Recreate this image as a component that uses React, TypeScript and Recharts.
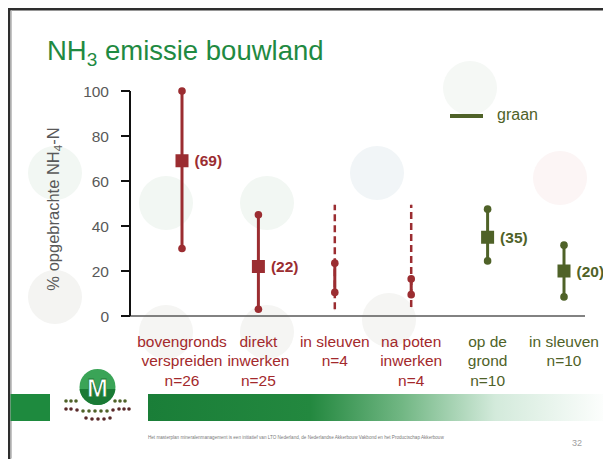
import React from 'react';
import { ComposedChart, Scatter, ErrorBar, XAxis, YAxis } from 'recharts';

// categorieën en meetwaarden (% opgebrachte NH4-N)
const categorieen = ['bovengronds verspreiden', 'direkt inwerken', 'in sleuven (mest)', 'na poten inwerken', 'op de grond', 'in sleuven (graan)'];
const labelRegels = [['bovengronds', 'verspreiden'], ['direkt', 'inwerken'], ['in sleuven'], ['na poten', 'inwerken'], ['op de', 'grond'], ['in sleuven']];
const aantal = [26, 25, 4, 4, 10, 10];
const gewas = ['overig', 'overig', 'overig', 'overig', 'graan', 'graan'];
const minimum = [30, 3, 10.5, 9.5, 24.5, 8.5];
const maximum = [100, 45, 23.5, 16.5, 47.5, 31.5];
const gemiddelde: (number | null)[] = [69, 22, null, null, 35, 20];
const stippelMin: (number | null)[] = [null, null, 3, 4, null, null];
const stippelMax: (number | null)[] = [null, null, 49.5, 49.5, null, null];
const yTicks = [0, 20, 40, 60, 80, 100];

const ROOD = '#9b2d31';
const ROOD_TEKST = '#a3292c';
const GROEN = '#4f6228';
const TITEL_GROEN = '#1f8a42';
const GRIJS = '#595959';
const FONT = '"Liberation Sans", Arial, sans-serif';

const kleurVan = (g: string) => (g === 'graan' ? GROEN : ROOD);

const data = categorieen.map((cat, i) => {
  const graan = gewas[i] === 'graan';
  const midden = (minimum[i] + maximum[i]) / 2;
  const half = (maximum[i] - minimum[i]) / 2;
  const sMin = stippelMin[i];
  const sMax = stippelMax[i];
  return {
    cat,
    gewas: gewas[i],
    laag: minimum[i],
    hoog: maximum[i],
    gem: gemiddelde[i],
    middenRood: graan ? null : midden,
    halfRood: graan ? null : half,
    middenGroen: graan ? midden : null,
    halfGroen: graan ? half : null,
    middenStip: sMin == null || sMax == null ? null : (sMin + sMax) / 2,
    halfStip: sMin == null || sMax == null ? null : (sMax - sMin) / 2,
  };
});

const Leeg = () => <g />;

const Stip = (props: any) => {
  const { cx, cy, payload } = props;
  if (cx == null || cy == null) return <g />;
  return <circle cx={cx} cy={cy} r={3.8} fill={kleurVan(payload.gewas)} />;
};

const Blokje = (props: any) => {
  const { cx, cy, payload } = props;
  if (cx == null || cy == null || payload.gem == null) return <g />;
  const kleur = kleurVan(payload.gewas);
  return (
    <g>
      <rect x={cx - 6.5} y={cy - 6.5} width={13} height={13} fill={kleur} />
      <text x={cx + 12.5} y={cy} dy="0.36em" fill={kleur} fontSize={15.5} fontWeight="bold" fontFamily={FONT}>
        {`(${payload.gem})`}
      </text>
    </g>
  );
};

const XTick = (props: any) => {
  const { x, y, payload } = props;
  const i = payload.index;
  const regels = [...labelRegels[i], `n=${aantal[i]}`];
  const kleur = gewas[i] === 'graan' ? GROEN : ROOD_TEKST;
  return (
    <text x={x} y={y} textAnchor="middle" fill={kleur} fontSize={15.5} fontFamily={FONT}>
      {regels.map((r, k) => (
        <tspan key={k} x={x} dy={k === 0 ? 30.5 : 19.7}>{r}</tspan>
      ))}
    </text>
  );
};

// decoratieve cirkels op de achtergrond van de dia
const cirkels = [
  { x: 47, y: 165, c: '#f2f7f3' },
  { x: 47, y: 289, c: '#f4f4f2' },
  { x: 158, y: 195, c: '#f2f7f3' },
  { x: 259, y: 195, c: '#f2f7f3' },
  { x: 158, y: 324, c: '#f5f5f3' },
  { x: 259, y: 324, c: '#f5f5f3' },
  { x: 369, y: 165, c: '#f1f5f7' },
  { x: 381, y: 312, c: '#f5f5f3' },
  { x: 462, y: 80, c: '#f5f8f5' },
  { x: 552, y: 170, c: '#fcf5f5' },
];

const logoStippen = [
  [66, 401, GROEN], [71, 401, GROEN], [76, 401, GROEN], [115, 401, GROEN], [120, 401, GROEN], [125, 401, GROEN],
  [66, 409, '#5a2a2a'], [71, 409, '#5a2a2a'], [77, 410, '#5a2a2a'], [83, 411, GROEN], [89, 411, GROEN], [95, 411, GROEN],
  [101, 411, GROEN], [107, 411, GROEN], [113, 410, '#5a2a2a'], [119, 409, '#5a2a2a'], [124, 409, '#5a2a2a'], [129, 409, '#5a2a2a'],
  [86, 418, '#5a2a2a'], [92, 419, '#5a2a2a'], [98, 419, '#5a2a2a'], [104, 419, '#5a2a2a'], [110, 418, '#5a2a2a'],
];

const Achtergrond = () => (
  <svg width={603} height={451} style={{ position: 'absolute', left: 0, top: 0 }}>
    <defs>
      <linearGradient id="band" x1="0" x2="1" y1="0" y2="0">
        <stop offset="0%" stopColor="#1a7e38" />
        <stop offset="35%" stopColor="#23883f" />
        <stop offset="55%" stopColor="#72b784" />
        <stop offset="75%" stopColor="#d3eadb" />
        <stop offset="100%" stopColor="#ffffff" />
      </linearGradient>
      <clipPath id="logoClip">
        <circle cx={89.5} cy={379} r={18} />
      </clipPath>
    </defs>
    {cirkels.map((c, i) => (
      <circle key={i} cx={c.x} cy={c.y} r={27} fill={c.c} />
    ))}
    {/* kader */}
    <rect x={0} y={0} width={603} height={2.5} fill="#2e2e2e" />
    <rect x={0} y={0} width={2.5} height={451} fill="#2e2e2e" />
    <rect x={2.5} y={2.5} width={1.5} height={448} fill="#c4c4c4" />
    {/* titel */}
    <text x={39} y={52} fontSize={27.5} fill={TITEL_GROEN} fontFamily={FONT} style={{ whiteSpace: 'pre' }}>
      NH<tspan fontSize={19} dy={6}>3</tspan><tspan fontSize={27.5} dy={-6}> emissie bouwland</tspan>
    </text>
    {/* y-as titel */}
    <text
      x={51}
      y={201}
      transform="rotate(-90 51 201)"
      textAnchor="middle"
      fontSize={16.5}
      fill={GRIJS}
      fontFamily={FONT}
    >
      % opgebrachte NH<tspan fontSize={11.5} dy={3}>4</tspan><tspan dy={-3}>-N</tspan>
    </text>
    {/* legenda */}
    <line x1={442} x2={475} y1={108} y2={108} stroke={GROEN} strokeWidth={4} />
    <text x={489} y={112} fontSize={16} fill={GROEN} fontFamily={FONT}>graan</text>
    {/* groene balk en logo */}
    <rect x={2.5} y={386} width={39.5} height={27} fill="#1e8a3e" />
    <rect x={140} y={386} width={463} height={27} fill="url(#band)" />
    <circle cx={89.5} cy={379} r={18} fill="#3aa457" />
    <rect x={70} y={381} width={40} height={20} fill="#1a7a35" clipPath="url(#logoClip)" />
    <text x={89.5} y={389} textAnchor="middle" fontSize={25} fontWeight="bold" fill="#ffffff" stroke="#1a7a35" strokeWidth={0.8} fontFamily={FONT}>M</text>
    {logoStippen.map((s, i) => (
      <circle key={i} cx={(s[0] as number) - 8} cy={(s[1] as number) - 8} r={1.8} fill={s[2] as string} />
    ))}
    {/* voettekst */}
    <text x={140} y={431} fontSize={4.6} fill="#7a7a7a" fontFamily={FONT}>
      Het masterplan mineralenmanagement is een initiatief van LTO Nederland, de Nederlandse Akkerbouw Vakbond en het Productschap Akkerbouw
    </text>
    <text x={564} y={438} fontSize={9} fill="#a0a0a0" fontFamily={FONT}>32</text>
  </svg>
);

export default function App() {
  return (
    <div style={{ position: 'relative', width: 603, height: 451, background: '#ffffff', fontFamily: FONT, overflow: 'hidden' }}>
      <Achtergrond />
      <div style={{ position: 'absolute', left: 0, top: 0 }}>
        <ComposedChart
          width={603}
          height={451}
          data={data}
          margin={{ top: 83, right: 26, bottom: 73, left: 62 }}
          style={{ fontFamily: FONT }}
        >
          <XAxis
            dataKey="cat"
            type="category"
            scale="point"
            padding={{ left: 52, right: 21 }}
            interval={0}
            tickLine={false}
            tickSize={0}
            tickMargin={0}
            height={70}
            axisLine={{ stroke: GRIJS, strokeWidth: 1.5 }}
            tick={<XTick />}
          />
          <YAxis
            type="number"
            domain={[0, 100]}
            ticks={yTicks}
            width={60}
            tickSize={9}
            tickMargin={12}
            axisLine={{ stroke: '#111111', strokeWidth: 2 }}
            tickLine={{ stroke: '#111111', strokeWidth: 2 }}
            tick={{ fill: GRIJS, fontSize: 15.5 }}
          />
          <Scatter dataKey="middenStip" shape={Leeg} isAnimationActive={false}>
            <ErrorBar dataKey="halfStip" direction="y" width={0} stroke={ROOD} strokeWidth={2.5} strokeDasharray="7 4" isAnimationActive={false} />
          </Scatter>
          <Scatter dataKey="middenRood" shape={Leeg} isAnimationActive={false}>
            <ErrorBar dataKey="halfRood" direction="y" width={0} stroke={ROOD} strokeWidth={3} isAnimationActive={false} />
          </Scatter>
          <Scatter dataKey="middenGroen" shape={Leeg} isAnimationActive={false}>
            <ErrorBar dataKey="halfGroen" direction="y" width={0} stroke={GROEN} strokeWidth={3} isAnimationActive={false} />
          </Scatter>
          <Scatter dataKey="hoog" shape={Stip} isAnimationActive={false} />
          <Scatter dataKey="laag" shape={Stip} isAnimationActive={false} />
          <Scatter dataKey="gem" shape={Blokje} isAnimationActive={false} />
        </ComposedChart>
      </div>
    </div>
  );
}
